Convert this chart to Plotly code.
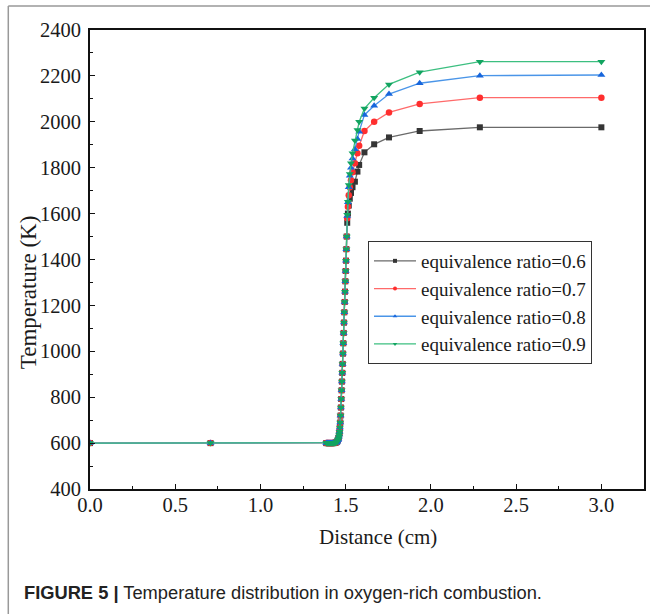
import plotly.graph_objects as go

# ---- data ----
distance_shared = [0.0, 0.707, 1.386, 1.391, 1.396, 1.401, 1.406, 1.411, 1.416, 1.421, 1.426,
                   1.431, 1.436, 1.441, 1.446, 1.450, 1.454, 1.457, 1.460, 1.462, 1.464, 1.466,
                   1.468, 1.470, 1.472, 1.474, 1.476, 1.478, 1.480, 1.482, 1.484, 1.486, 1.488,
                   1.490, 1.492, 1.494, 1.496, 1.498, 1.500, 1.502, 1.504, 1.506]
temp_shared = [600, 600, 600, 600, 600, 600, 600, 600, 600, 600, 600,
               600, 601, 602, 604, 607, 612, 618, 628, 638, 650, 668,
               690, 720, 755, 792, 830, 868, 906, 945, 990, 1035, 1080,
               1125, 1170, 1215, 1260, 1305, 1350, 1395, 1445, 1500]

distance_flame = [1.509, 1.513, 1.518, 1.524, 1.531, 1.540, 1.554, 1.569, 1.579,
                  1.610, 1.667, 1.754, 1.934, 2.287, 3.0]
temp_phi06 = [1560, 1600, 1635, 1665, 1690, 1715, 1739, 1783, 1812, 1867, 1902, 1932, 1960, 1976, 1976]
temp_phi07 = [1580, 1630, 1680, 1715, 1745, 1780, 1819, 1863, 1896, 1960, 2000, 2041, 2078, 2105, 2105]
temp_phi08 = [1590, 1650, 1715, 1765, 1800, 1840, 1880, 1925, 1957, 2030, 2070, 2121, 2168, 2201, 2204]
temp_phi09 = [1595, 1652, 1725, 1773, 1819, 1863, 1918, 1964, 2000, 2058, 2105, 2163, 2216, 2262, 2262]

series_names = ["equivalence ratio=0.6", "equivalence ratio=0.7",
                "equivalence ratio=0.8", "equivalence ratio=0.9"]
series_temps = [temp_phi06, temp_phi07, temp_phi08, temp_phi09]
marker_colors = ["#353535", "#ff2e2e", "#1766dc", "#12a460"]
line_colors = ["#6a6a6a", "#ff6a6a", "#4a95e8", "#3cbf80"]
marker_symbols = ["square", "circle", "triangle-up", "triangle-down"]
marker_sizes = [6, 6.5, 7, 7]

x_ticks = [0.0, 0.5, 1.0, 1.5, 2.0, 2.5, 3.0]
y_ticks = [400, 600, 800, 1000, 1200, 1400, 1600, 1800, 2000, 2200, 2400]

# ---- layout helpers (pixel -> paper) ----
W, H = 650, 614
L, R, T, B = 90, 646, 30, 489
def px(x):
    return (x - L) / (R - L)
def py(y):
    return (B - y) / (B - T)

fig = go.Figure()
for name, temps, mc, lc, sym, ms in zip(series_names, series_temps, marker_colors,
                                        line_colors, marker_symbols, marker_sizes):
    fig.add_trace(go.Scatter(
        x=distance_shared + distance_flame,
        y=temp_shared + temps,
        mode="lines+markers",
        name=name,
        showlegend=False,
        line=dict(color=lc, width=1.3),
        marker=dict(symbol=sym, size=ms, color=mc, line=dict(width=0)),
    ))
# legend entries with small markers, as in the reference legend
for name, mc, lc, sym in zip(series_names, marker_colors, line_colors, marker_symbols):
    fig.add_trace(go.Scatter(
        x=[None], y=[None], mode="lines+markers", name=name, showlegend=True,
        line=dict(color=lc, width=1.3),
        marker=dict(symbol=sym, size=4, color=mc, line=dict(width=0)),
    ))

serif = "Liberation Serif"
tick_font = dict(family=serif, size=20.5, color="#1a1a1a")
axis_common = dict(
    showline=True, linecolor="#111", linewidth=1.6, mirror=True,
    ticks="inside", ticklen=5, tickwidth=1.2, tickcolor="#111",
    showgrid=False, zeroline=False,
)
fig.update_xaxes(range=[0, 3.25], tickmode="array", tickvals=x_ticks,
                 ticktext=[f"{v:.1f}" for v in x_ticks], tickfont=tick_font,
                 minor=dict(ticks="inside", ticklen=3, tickwidth=1.1, tickcolor="#111", dtick=0.25, tick0=0),
                 ticklabelstandoff=-3, **axis_common)
fig.update_yaxes(range=[400, 2400], tickmode="array", tickvals=y_ticks,
                 ticktext=[str(v) for v in y_ticks], tickfont=tick_font,
                 minor=dict(ticks="inside", ticklen=3, tickwidth=1.1, tickcolor="#111", dtick=100, tick0=400),
                 ticklabelstandoff=3, **axis_common)

fig.update_layout(
    width=W, height=H,
    font=dict(family=serif, size=16, color="#1a1a1a"),
    margin=dict(l=L, r=W - R, t=T, b=H - B),
    paper_bgcolor="white", plot_bgcolor="white",
    showlegend=True,
    legend=dict(
        x=px(369), y=py(241), xanchor="left", yanchor="top",
        bgcolor="white", bordercolor="#333", borderwidth=1,
        font=dict(family=serif, size=19, color="#1a1a1a"),
        itemwidth=42, tracegroupgap=0,
    ),
    annotations=[
        dict(text="Distance (cm)", x=px(379), y=py(537), xref="paper", yref="paper",
             showarrow=False, font=dict(family=serif, size=21, color="#1a1a1a"),
             xanchor="center", yanchor="middle"),
        dict(text="Temperature (K)", x=px(28), y=py(292), xref="paper", yref="paper",
             showarrow=False, textangle=-90, font=dict(family=serif, size=23, color="#1a1a1a"),
             xanchor="center", yanchor="middle"),
        dict(text="<b>FIGURE 5 |</b> Temperature distribution in oxygen-rich combustion.",
             x=px(22), y=py(592), xref="paper", yref="paper", showarrow=False,
             font=dict(family="Liberation Sans", size=18.3, color="#222"),
             xanchor="left", yanchor="middle"),
    ],
    shapes=[
        dict(type="line", xref="paper", yref="paper", x0=px(8), x1=px(8), y0=py(6), y1=py(640),
             line=dict(color="#999", width=1.5)),
        dict(type="line", xref="paper", yref="paper", x0=px(8), x1=px(700), y0=py(6), y1=py(6),
             line=dict(color="#999", width=1.5)),
    ],
)

fig.write_html("out.html", config={"displayModeBar": False},
               post_script="document.body.style.margin='0';document.body.style.overflow='hidden';")
